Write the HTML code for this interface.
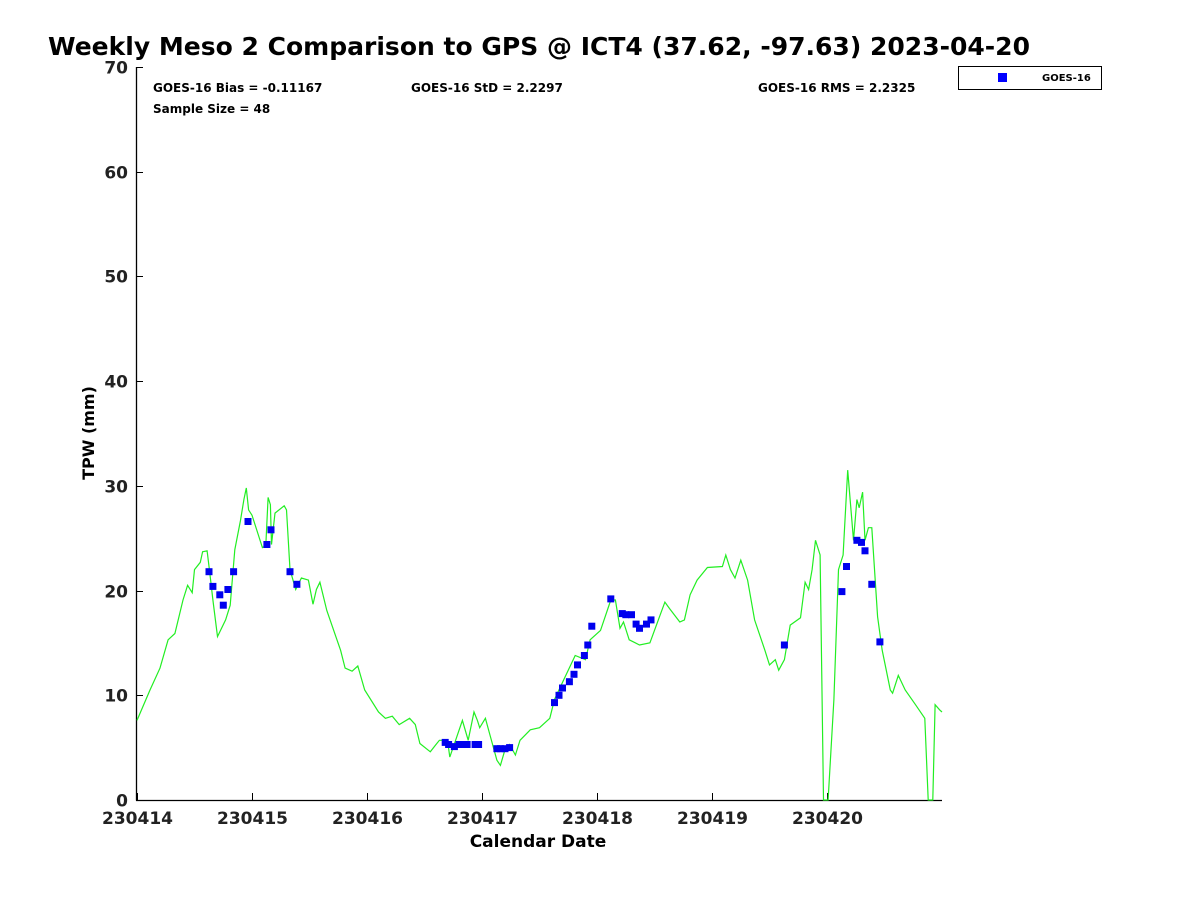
<!DOCTYPE html>
<html><head><meta charset="utf-8">
<style>
html,body{margin:0;padding:0;background:#fff;}
svg{display:block;font-family:"DejaVu Sans","Liberation Sans",sans-serif;font-weight:bold;}
</style></head>
<body>
<svg id="chart" width="1200" height="900" viewBox="0 0 1200 900" xmlns="http://www.w3.org/2000/svg">
<rect width="1200" height="900" fill="#fff"/>
<text x="48" y="55" font-size="25" textLength="982" lengthAdjust="spacingAndGlyphs" fill="#000">Weekly Meso 2 Comparison to GPS @ ICT4 (37.62, -97.63) 2023-04-20</text>
<g id="axes"></g>
<g id="series"></g>
<text x="153" y="92" font-size="12">GOES-16 Bias = -0.11167</text>
<text x="411" y="92" font-size="12">GOES-16 StD = 2.2297</text>
<text x="758" y="92" font-size="12">GOES-16 RMS = 2.2325</text>
<text x="153" y="113" font-size="12">Sample Size = 48</text>
<g>
<rect x="958.5" y="66.5" width="143" height="23" fill="#fff" stroke="#000" stroke-width="1"/>
<rect x="998" y="73" width="9" height="9" fill="#0000ff"/>
<text x="1042" y="81" font-size="10">GOES-16</text>
</g>
<text x="538" y="847" font-size="17" text-anchor="middle">Calendar Date</text>
<text transform="translate(94,433) rotate(-90)" font-size="16" text-anchor="middle">TPW (mm)</text>
</svg>
<script>
const xTickLabels = ["230414","230415","230416","230417","230418","230419","230420"];
const yTickLabels = [0,10,20,30,40,50,60,70];
const gpsDays = [0,0.113,0.2,0.27,0.33,0.4,0.44,0.48,0.5,0.55,0.57,0.61,0.63,0.66,0.70,0.77,0.81,0.85,0.9,0.93,0.95,0.97,1.0,1.09,1.12,1.14,1.16,1.17,1.2,1.28,1.30,1.33,1.38,1.43,1.49,1.53,1.56,1.59,1.65,1.77,1.81,1.87,1.92,1.98,2.1,2.16,2.22,2.28,2.37,2.42,2.46,2.55,2.6,2.63,2.7,2.72,2.77,2.83,2.88,2.93,2.96,2.98,3.03,3.07,3.13,3.16,3.2,3.24,3.29,3.33,3.42,3.5,3.59,3.63,3.72,3.81,3.9,3.94,4.03,4.12,4.16,4.2,4.23,4.28,4.37,4.46,4.54,4.59,4.63,4.72,4.76,4.81,4.87,4.96,5.09,5.12,5.16,5.2,5.25,5.31,5.37,5.46,5.5,5.55,5.58,5.63,5.68,5.77,5.81,5.84,5.87,5.9,5.94,5.97,6.01,6.06,6.1,6.14,6.18,6.23,6.26,6.28,6.31,6.33,6.36,6.39,6.44,6.48,6.55,6.57,6.62,6.68,6.77,6.85,6.88,6.92,6.94,6.98,7.0];
const gpsTPW = [7.6,10.5,12.6,15.3,15.9,19.1,20.5,19.8,22.0,22.7,23.7,23.8,22,19.1,15.6,17.2,18.6,23.9,26.7,28.7,29.8,27.7,27.2,24.1,24.3,28.9,28.2,24.4,27.4,28.1,27.7,22,20.1,21.2,21,18.7,20.1,20.8,18.1,14.3,12.6,12.3,12.8,10.5,8.4,7.8,8,7.2,7.8,7.2,5.4,4.6,5.3,5.7,5.7,4.1,5.7,7.6,5.7,8.4,7.6,6.9,7.8,6.2,3.8,3.3,4.8,5.3,4.3,5.7,6.7,6.9,7.8,9.6,11.7,13.8,13.4,15.3,16.2,19.1,19.1,16.4,17,15.3,14.8,15,17.4,18.9,18.3,17,17.2,19.6,21,22.2,22.3,23.4,22,21.2,22.9,21,17.2,14.3,12.9,13.4,12.4,13.4,16.7,17.4,20.8,20.1,22,24.8,23.4,0,0,9.6,22,23.4,31.5,24.8,28.7,27.9,29.4,24.8,26,26,17.5,14.3,10.5,10.2,11.9,10.5,9.1,7.8,0,0,9.1,8.6,8.4];
const goesDays = [0.626,0.66,0.72,0.75,0.79,0.84,0.965,1.13,1.165,1.33,1.39,2.68,2.71,2.76,2.8,2.83,2.87,2.94,2.97,3.13,3.16,3.2,3.24,3.63,3.67,3.7,3.76,3.8,3.83,3.89,3.92,3.955,4.12,4.22,4.25,4.3,4.34,4.37,4.43,4.47,5.63,6.13,6.17,6.26,6.3,6.33,6.39,6.46];
const goesTPW = [21.8,20.4,19.6,18.6,20.1,21.8,26.6,24.4,25.8,21.8,20.6,5.5,5.3,5.1,5.3,5.3,5.3,5.3,5.3,4.9,4.9,4.9,5.0,9.3,10.0,10.7,11.3,12.0,12.9,13.8,14.8,16.6,19.2,17.8,17.7,17.7,16.8,16.4,16.8,17.2,14.8,19.9,22.3,24.8,24.6,23.8,20.6,15.1];

const NS="http://www.w3.org/2000/svg";
const X0=137, DX=115, Y0=800, DY=733/70;
function xs(d){return X0+d*DX;}
function ys(v){return Y0-v*DY;}
function mk(tag,attrs,parent){const e=document.createElementNS(NS,tag);for(const k in attrs)e.setAttribute(k,attrs[k]);parent.appendChild(e);return e;}
const axes=document.getElementById('axes'), series=document.getElementById('series');

const yAxis=mk('line',{x1:136.5,y1:67,x2:136.5,y2:800.5,stroke:'#000','stroke-width':1.3},axes);


const xAxis=mk('line',{x1:136,y1:800.5,x2:942,y2:800.5,stroke:'#000','stroke-width':1.3},axes);



yTickLabels.forEach(v=>{
  const y=Math.round(ys(v))+0.5;
  const t=mk('line',{x1:136,y1:y,x2:143,y2:y,stroke:'#000','stroke-width':1},axes);
  
  
  const l=mk('text',{x:128,y:y+6,'font-size':17,'text-anchor':'end',fill:'#222'},axes);
  
  
  l.textContent=v;
});
xTickLabels.forEach((s,i)=>{
  const x=Math.round(xs(i))+0.5;
  const t=mk('line',{x1:x,y1:800,x2:x,y2:793,stroke:'#000','stroke-width':1},axes);
  
  
  const l=mk('text',{x:x,y:824,'font-size':17,'text-anchor':'middle',fill:'#222'},axes);
  
  
  l.textContent=s;
});

const pts=gpsDays.map((d,i)=>xs(d).toFixed(1)+','+ys(gpsTPW[i]).toFixed(1)).join(' ');
const line=mk('polyline',{points:pts,fill:'none',stroke:'#22ee22','stroke-width':1.2},series);



goesDays.forEach((d,i)=>{
  const r=mk('rect',{x:(xs(d)-3.5).toFixed(1),y:(ys(goesTPW[i])-3.5).toFixed(1),width:7,height:7,fill:'#0000ee'},series);
  
  
});
</script>
</body></html>
